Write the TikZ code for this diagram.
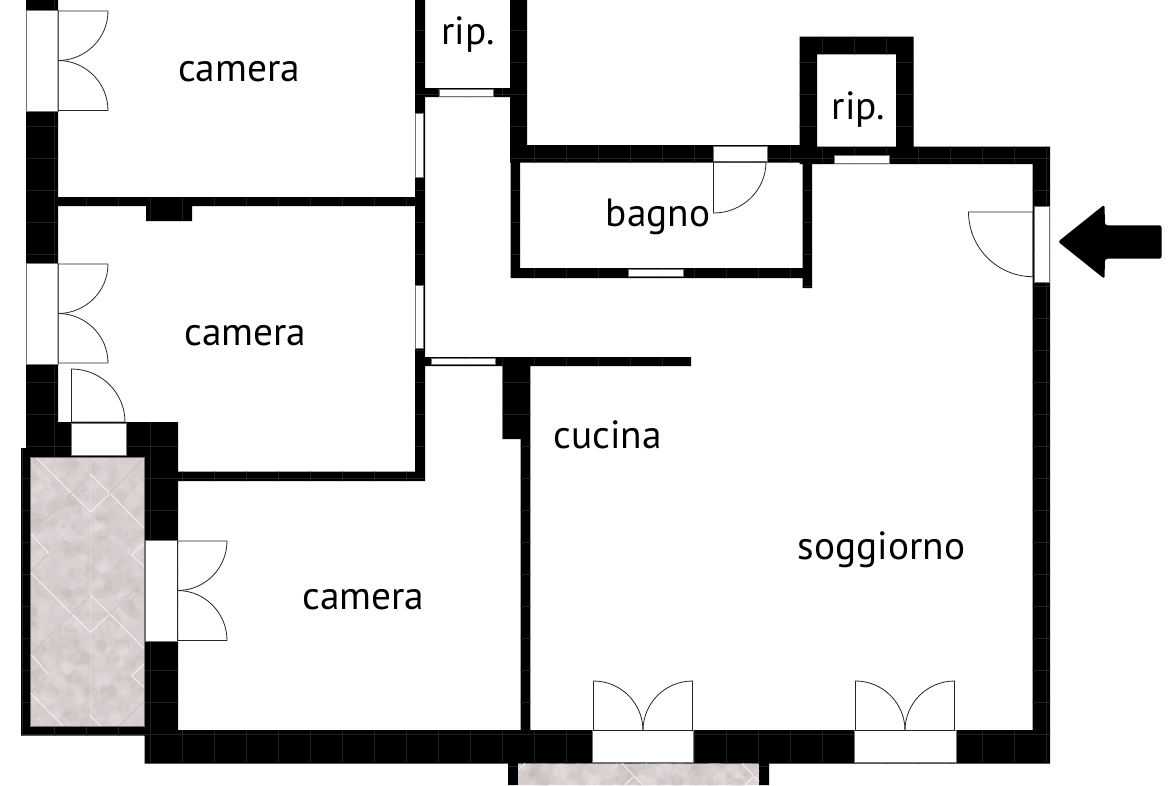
\documentclass[tikz,border=0pt]{standalone}
\usepackage{fontspec}
\setmainfont{PT Sans}
\usetikzlibrary{calc}
\definecolor{tilebase}{HTML}{D6CECE}
\definecolor{tilelite}{HTML}{F3ECEC}
\definecolor{tiledark}{HTML}{B0A7A7}
\definecolor{gridc}{HTML}{202020}
\tikzset{
  roomlabel/.style={font=\fontsize{39.3}{40}\selectfont,text=black,inner sep=0pt,anchor=base},
  winbox/.style={fill=white,draw=black!55,line width=0.8pt},
  leafline/.style={draw=black!85,line width=0.8pt},
  tilejoint/.style={draw=tilelite,line width=1.1pt},
  tileshade/.style={draw=black!35,line width=0.5pt,xshift=-0.6pt,yshift=-0.6pt},
  gridline/.style={draw=gridc,line width=0.5pt}
}
\newcommand{\wallpath}{
  (26,0) rectangle (58,448)
  (58,422) rectangle (178,457)
  (21,448) rectangle (145,457)
  (21,448) rectangle (30.5,735.5)
  (21,726) rectangle (145,735.5)
  (144.5,422) rectangle (178,763.5)
  (144.5,730) rectangle (1050,763.5)
  (58,197) rectangle (415,206)
  (146,206) rectangle (192,221)
  (415,0) rectangle (425,481)
  (178,471.5) rectangle (425,481)
  (415,88) rectangle (527,97)
  (510,0) rectangle (527,162)
  (510,145) rectangle (800,162.5)
  (799.5,146.7) rectangle (1050,164)
  (799.5,36.7) rectangle (913.7,54.3)
  (799.5,36.7) rectangle (817,155)
  (896,36.7) rectangle (913.7,155)
  (510.5,162) rectangle (520,278)
  (510.5,268) rectangle (812,278)
  (802.5,162) rectangle (812,288)
  (1032.7,146.7) rectangle (1050,763.5)
  (425,357) rectangle (691,366)
  (502.7,357) rectangle (530.3,439)
  (520.7,357) rectangle (530.3,730)
  (508,763) rectangle (518,785)
  (759,763) rectangle (769,785)
}
% quarter-circle door leaf: hinge, open end, closing point
\newcommand{\doorleaf}[3]{
  \draw[leafline] #3 -- #1 -- #2 .. controls ($#2+0.5523*#3-0.5523*#1$) and ($#3+0.5523*#2-0.5523*#1$) .. #3;
}
\newcommand{\mottle}[5]{% x0 x1 y0 y1 count
  \pgfmathsetseed{#1#2}
  \foreach \i in {1,...,#5}{
    \pgfmathsetmacro{\mx}{#1+(#2-#1)*rnd}
    \pgfmathsetmacro{\my}{#3+(#4-#3)*rnd}
    \pgfmathsetmacro{\mr}{2+6*rnd}
    \pgfmathparse{rnd>0.45?1:0}
    \ifnum\pgfmathresult=1
      \fill[tilelite,opacity=0.16] (\mx,\my) circle[radius=\mr pt];
    \else
      \fill[tiledark,opacity=0.13] (\mx,\my) circle[radius=\mr pt];
    \fi
  }
}
\begin{document}
\begin{tikzpicture}[x=1pt,y=-1pt]
\useasboundingbox (0,0) rectangle (1170,785);
\fill[white] (0,0) rectangle (1170,785);
% walls
\fill[black] \wallpath;
\begin{scope}
  \clip \wallpath;
  \foreach \gx in {22,54,...,1046} \draw[gridline] (\gx,0) -- (\gx,785);
  \foreach \gy in {30,62,...,766} \draw[gridline] (0,\gy) -- (1170,\gy);
\end{scope}
% side balcony
\begin{scope}
  \clip (30.5,457) rectangle (144.5,726);
  \fill[tilebase] (30.5,457) rectangle (144.5,726);
  \mottle{30}{145}{457}{726}{500}
  \draw[tilelite,opacity=.35,line width=1pt] (90.5,457) -- (90.5,726);
  \foreach \k in {-1,0,1,2}{
    \begin{scope}[yshift=-120.7*\k pt]
      \draw[tilejoint] (30.7,452) -- (71.7,493.3) -- (90.3,474.3) -- (110,493.3) -- (90.7,511.7) -- (71.7,493.3);
      \draw[tilejoint] (110,493.3) -- (144.3,459);
      \draw[tilejoint] (71.7,493.3) -- (30.7,533.3) -- (48.3,553.3) -- (30.7,571.7);
      \draw[tilejoint] (110,493.3) -- (144.3,528.3);
      \draw[tilejoint] (144.3,543.3) -- (131.7,555) -- (144.3,566.7);
      \draw[tileshade] (71.7,493.3) -- (90.3,474.3);
      \draw[tileshade] (110,493.3) -- (144.3,459);
      \draw[tileshade] (71.7,493.3) -- (30.7,533.3);
      \draw[tileshade] (48.3,553.3) -- (30.7,571.7);
    \end{scope}
  }
\end{scope}
\draw[black!55,line width=0.6pt] (30.5,457) rectangle (144.5,726);
% bottom balcony
\begin{scope}
  \clip (518,763.5) rectangle (759,785);
  \fill[tilebase] (518,763.5) rectangle (759,785);
  \mottle{518}{759}{763}{785}{170}
  \draw[tilejoint] (518,770) -- (525,763.5);
  \foreach \k in {0,1}{
    \begin{scope}[xshift=120*\k pt]
      \draw[tilejoint] (622,763.5) -- (634,776) -- (647,763.5);
      \draw[tilejoint] (634,776) -- (645,787);
      \draw[tilejoint] (634,776) -- (623,787);
      \draw[tileshade] (634,776) -- (647,763.5);
    \end{scope}
  }
\end{scope}
% windows in walls
\foreach \xa/\ya/\xb/\yb in {
  26/10.5/58/111, 26/263/58/364, 71/423/126/455, 145.5/540/177.5/641,
  592.7/730.7/693/762.7, 854/730.7/956/762.7,
  415.5/113/423/177, 415.5/285/423/348.5,
  439/89.5/493.5/96, 431/358/495/364.7,
  713/146/767/161.5, 628/269.5/683/276.5,
  834.3/155.5/889/163, 1034/206/1049/282.7}
  {\draw[winbox] (\xa,\ya) rectangle (\xb,\yb);}
% door leaves
\doorleaf{(58,11)}{(108,11)}{(58,60.5)}
\doorleaf{(58,110.5)}{(108,110.5)}{(58,60.5)}
\doorleaf{(58,264)}{(108,264)}{(58,313.5)}
\doorleaf{(58,363)}{(108,363)}{(58,313.5)}
\doorleaf{(71.5,422)}{(71.5,369)}{(125,422)}
\doorleaf{(177.5,541)}{(227,541)}{(177.5,590.5)}
\doorleaf{(177.5,640.5)}{(227,640.5)}{(177.5,590.5)}
\doorleaf{(593.5,730.5)}{(593.5,681)}{(643,730.5)}
\doorleaf{(692.5,730.5)}{(692.5,681)}{(643,730.5)}
\doorleaf{(855.5,730.5)}{(855.5,681)}{(905,730.5)}
\doorleaf{(954.5,730.5)}{(954.5,681)}{(905,730.5)}
\doorleaf{(713.5,162)}{(713.5,213)}{(766,162)}
\doorleaf{(1033,212)}{(968.5,212)}{(1033,276.7)}
% entrance arrow
\fill[black,rounded corners=2.5pt] (1058,241.7) -- (1104.5,204.5) -- (1105,225.3) -- (1161.7,225.3) -- (1161.7,258.7) -- (1105,258.7) -- (1104.5,278.9) -- cycle;
% labels
\node[roomlabel] (cam1) at (239,81) {camera};
\node[roomlabel] (cam2) at (245.5,345) {camera};
\node[roomlabel] (cam3) at (363.5,609) {camera};
\node[roomlabel] (rip1) at (468,44.5) {rip.};
\node[roomlabel] (rip2) at (858.5,119.5) {rip.};
\node[roomlabel] (bagno) at (658,226) {bagno};
\node[roomlabel] (cucina) at (607.5,448.5) {cucina};
\node[roomlabel] (sogg) at (881.5,559) {soggiorno};
\end{tikzpicture}
\end{document}
